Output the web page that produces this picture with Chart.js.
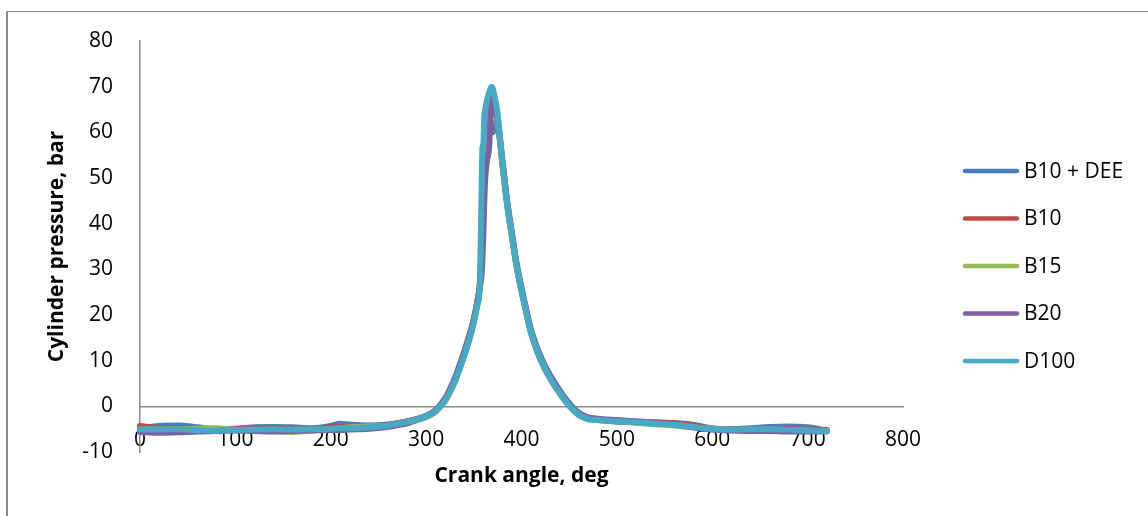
<!DOCTYPE html>
<html>
<head>
<meta charset="utf-8">
<script src="https://cdn.jsdelivr.net/npm/chart.js@4.4.1/dist/chart.umd.min.js"></script>
<style>
  html, body { margin: 0; padding: 0; background: #fff; }
  #wrap { position: relative; width: 1148px; height: 516px; overflow: hidden; }
  #frame { position: absolute; left: 6px; top: 11px; width: 2000px; height: 2000px;
           border-style: solid; border-color: #898989; border-width: 1px 0 0 2px; }
  canvas { position: absolute; left: 0; top: 0; }
</style>
</head>
<body>
<div id="wrap">
  <div id="frame"></div>
  <canvas id="pressureChart" width="1148" height="516"></canvas>
</div>
<script>
// Crank angle (deg) shared by all series
const crankAngle = [0, 20, 40, 60, 80, 100, 120, 140, 160, 180, 200,
  210, 220, 240, 260, 270, 280, 290, 300,
  305, 310, 315, 320, 325, 330, 335, 340, 345, 350,
  354, 356, 358, 359, 360, 361, 362, 364, 366, 368, 369, 370, 372, 375,
  380, 385, 390, 395, 400, 405, 410, 415, 420, 425, 430, 435, 440, 445, 450, 455, 460, 465, 470,
  480, 500, 520, 540, 560, 580, 600, 620, 640, 660, 680, 700, 720];

// Cylinder pressure (bar)
const b10Dee = [-4.8, -4.3, -4.2, -4.6, -5.0, -4.9, -4.6, -4.5, -4.6, -4.8, -4.3,
  -3.8, -4.0, -4.2, -4.0, -3.7, -3.3, -2.8, -2.1,
  -1.6, -0.9, 0.1, 1.4, 3.3, 5.5, 8.3, 11.3, 14.7, 18.7,
  23.0, 25.6, 31.0, 40.0, 48.0, 52.0, 55.0, 58.5, 60.5, 62.5, 61.8, 60.0, 61.0, 61.2,
  53.0, 44.0, 37.0, 30.4, 25.2, 20.5, 16.0, 12.8, 10.2, 8.0, 6.1, 4.4, 2.9, 1.4, 0.1, -1.0, -1.9, -2.4, -2.8,
  -3.0, -3.3, -3.5, -3.7, -3.7, -4.0, -4.8, -5.0, -4.8, -4.5, -4.4, -4.6, -5.3];
const b10 = [-4.3, -4.7, -4.8, -5.0, -5.1, -5.0, -4.9, -4.8, -4.9, -4.9, -4.6,
  -4.5, -4.6, -4.5, -4.1, -3.7, -3.3, -2.8, -2.1,
  -1.6, -0.9, 0.2, 1.5, 3.4, 5.6, 8.5, 11.5, 14.9, 18.9,
  23.2, 26.0, 35.0, 44.0, 50.0, 55.0, 58.5, 62.5, 65.5, 67.2, 67.5, 66.8, 65.5, 62.5,
  53.5, 44.6, 37.6, 30.8, 25.6, 20.8, 16.4, 13.2, 10.6, 8.3, 6.4, 4.7, 3.1, 1.6, 0.3, -0.8, -1.7, -2.3, -2.7,
  -2.9, -3.2, -3.3, -3.5, -3.7, -4.2, -4.9, -5.0, -5.0, -4.9, -5.0, -5.1, -5.2];
const b15 = [-5.0, -5.1, -5.0, -4.9, -4.8, -5.1, -5.2, -5.4, -5.6, -5.3, -5.0,
  -4.8, -4.6, -4.4, -4.3, -4.0, -3.6, -3.0, -2.4,
  -1.9, -1.2, -0.1, 1.2, 3.1, 5.3, 8.1, 11.1, 14.4, 18.4,
  22.8, 25.5, 33.0, 42.0, 48.5, 53.5, 57.0, 61.5, 64.5, 66.0, 66.2, 65.6, 64.8, 62.0,
  53.0, 44.2, 37.2, 30.5, 25.3, 20.6, 16.2, 13.0, 10.5, 8.2, 6.3, 4.6, 3.0, 1.5, 0.3, -0.8, -1.7, -2.3, -2.7,
  -3.0, -3.3, -3.6, -3.9, -4.2, -4.6, -4.9, -5.2, -5.2, -5.1, -5.2, -5.3, -5.4];
const b20 = [-5.6, -5.8, -5.7, -5.5, -5.4, -5.3, -5.4, -5.5, -5.4, -5.3, -5.2,
  -5.2, -5.1, -4.9, -4.5, -4.1, -3.7, -3.0, -2.2,
  -1.6, -0.8, 0.4, 1.8, 3.8, 6.1, 9.0, 12.1, 15.4, 19.2,
  23.2, 25.8, 28.5, 32.0, 38.0, 45.0, 50.0, 54.0, 56.5, 65.5, 66.5, 66.0, 65.0, 62.8,
  54.0, 45.0, 38.0, 31.2, 26.0, 21.2, 16.8, 13.6, 11.0, 8.7, 6.8, 5.1, 3.5, 2.0, 0.7, -0.5, -1.4, -2.0, -2.4,
  -2.7, -3.0, -3.3, -3.6, -4.0, -4.6, -5.1, -5.3, -5.4, -5.4, -5.5, -5.5, -5.5];
const d100 = [-5.1, -5.0, -5.0, -5.2, -5.3, -5.2, -5.1, -5.0, -5.1, -5.0, -4.9,
  -4.8, -4.8, -4.6, -4.2, -3.8, -3.4, -2.9, -2.2,
  -1.7, -1.0, 0.0, 1.3, 3.2, 5.4, 8.2, 11.2, 14.5, 18.3,
  22.4, 25.2, 45.0, 56.5, 57.5, 63.5, 65.0, 67.2, 68.6, 69.8, 69.9, 69.4, 67.6, 64.0,
  53.2, 44.3, 37.4, 30.6, 25.4, 20.6, 16.2, 13.0, 10.4, 8.1, 6.2, 4.5, 3.0, 1.5, 0.2, -0.9, -1.8, -2.4, -2.8,
  -3.0, -3.3, -3.5, -3.8, -4.1, -4.5, -5.0, -5.1, -5.0, -5.0, -5.1, -5.3, -5.4];

const seriesNames = ['B10 + DEE', 'B10', 'B15', 'B20', 'D100'];
const seriesValues = [b10Dee, b10, b15, b20, d100];
const seriesColors = ['#4a7ebb', '#be4b48', '#98b954', '#7d60a0', '#46aac5'];

const xTicks = [0, 100, 200, 300, 400, 500, 600, 700, 800];
const yTicks = [-10, 0, 10, 20, 30, 40, 50, 60, 70, 80];

const fontFamily = '"Open Sans", sans-serif';
Chart.defaults.font.family = fontFamily;
Chart.defaults.font.size = 21;
Chart.defaults.color = '#000';

// legend drawn on the right, Excel style (short thick line + label)
const sideLegend = {
    id: 'sideLegend',
    afterDraw(chart) {
        const ctx = chart.ctx;
        ctx.save();
        ctx.font = '21px ' + fontFamily;
        ctx.textBaseline = 'middle';
        ctx.lineCap = 'round';
        chart.data.datasets.forEach((ds, i) => {
            const y = 171 + i * 47.5;
            ctx.strokeStyle = ds.borderColor;
            ctx.lineWidth = 4.5;
            ctx.beginPath();
            ctx.moveTo(965, y);
            ctx.lineTo(1017, y);
            ctx.stroke();
            ctx.fillStyle = '#000';
            ctx.fillText(ds.label, 1024, y + 1);
        });
        ctx.restore();
    }
};

const datasets = seriesNames.map((name, i) => ({
    label: name,
    data: crankAngle.map((a, j) => ({ x: a, y: seriesValues[i][j] })),
    borderColor: seriesColors[i],
    backgroundColor: seriesColors[i],
    borderWidth: 6,
    borderCapStyle: 'round',
    borderJoinStyle: 'round',
    cubicInterpolationMode: 'monotone',
    pointRadius: 0,
    fill: false,
    clip: false,
    order: seriesNames.length - 1 - i // last series (D100) on top
}));

new Chart(document.getElementById('pressureChart'), {
    type: 'line',
    data: { datasets: datasets },
    plugins: [sideLegend],
    options: {
        responsive: false,
        animation: false,
        layout: { padding: { top: 41, bottom: 64, left: 0, right: 245 } },
        plugins: {
            legend: { display: false },
            tooltip: { enabled: false }
        },
        scales: {
            x: {
                type: 'linear',
                position: { y: 0 },
                min: 0,
                max: 800,
                afterBuildTicks: scale => { scale.ticks = xTicks.map(v => ({ value: v })); },
                ticks: { padding: 21, autoSkip: false, maxRotation: 0 },
                grid: { display: false, drawTicks: false },
                border: { color: '#8a8a8a', width: 1.5 },
                title: {
                    display: true,
                    text: 'Crank angle, deg',
                    font: { size: 21, weight: 'bold' },
                    padding: { top: -10, bottom: 0 }
                }
            },
            y: {
                min: -10,
                max: 80,
                afterBuildTicks: scale => { scale.ticks = yTicks.map(v => ({ value: v })); },
                afterFit: scale => { scale.width = 140; },
                ticks: { padding: 27, autoSkip: false },
                grid: { display: false, drawTicks: false },
                border: { color: '#8a8a8a', width: 1.5 },
                title: {
                    display: true,
                    text: 'Cylinder pressure, bar',
                    font: { size: 21, weight: 'bold' },
                    padding: { top: 44, bottom: 0 }
                }
            }
        }
    }
});
</script>
</body>
</html>
